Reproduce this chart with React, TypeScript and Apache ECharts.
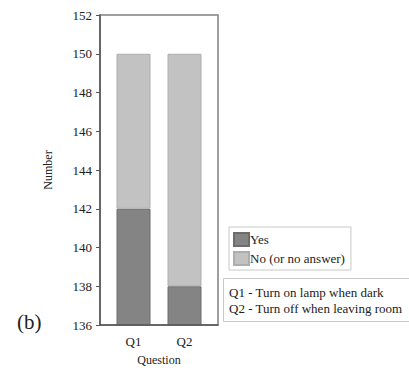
import React, { useEffect, useRef } from "react";
import * as echarts from "echarts";

const categories = ["Q1", "Q2"];
const yesValues = [142, 138];
const noValues = [8, 12];
const seriesNames = ["Yes", "No (or no answer)"];
const noteLines = ["Q1 - Turn on lamp when dark", "Q2 - Turn off when leaving room"];
const yMin = 136;
const yMax = 152;
const yStep = 2;

const FONT = "Times New Roman, Liberation Serif, serif";

export default function App() {
  const ref = useRef<HTMLDivElement>(null);
  useEffect(() => {
    if (!ref.current) return;
    const chart = echarts.init(ref.current, null, { renderer: "svg" });
    chart.setOption({
      animation: false,
      backgroundColor: "#ffffff",
      textStyle: { fontFamily: FONT },
      grid: [
        { left: 100, top: 15, width: 118, height: 310, show: true, borderColor: "#808080", borderWidth: 1.5, backgroundColor: "transparent", outerBoundsMode: "none", containLabel: false },
        { left: 108, top: 15, width: 102, height: 310, show: false, outerBoundsMode: "none", containLabel: false },
      ],
      xAxis: [
        {
          gridIndex: 0,
          type: "category",
          data: categories,
          name: "Question",
          nameLocation: "middle",
          nameGap: 29,
          nameTextStyle: { fontFamily: FONT, fontSize: 12, color: "#222" },
          axisLine: { show: true, lineStyle: { color: "#555", width: 1.5 } },
          axisTick: { show: false },
          axisLabel: { show: false },
          z: 5,
        },
        {
          gridIndex: 1,
          type: "category",
          data: categories,
          axisLine: { show: false },
          axisTick: { show: false },
          axisLabel: { fontFamily: FONT, fontSize: 13, color: "#222", margin: 10 },
        },
      ],
      yAxis: [
        {
          gridIndex: 0,
          type: "value",
          min: yMin,
          max: yMax,
          interval: yStep,
          name: "Number",
          nameLocation: "middle",
          nameGap: 46,
          nameTextStyle: { fontFamily: FONT, fontSize: 12, color: "#222" },
          axisLine: { show: true, lineStyle: { color: "#555", width: 1.5 } },
          axisTick: { show: true, length: 4, lineStyle: { color: "#555" } },
          axisLabel: { fontFamily: FONT, fontSize: 13, color: "#222", margin: 8 },
          splitLine: { show: false },
        },
        {
          gridIndex: 1,
          type: "value",
          min: yMin,
          max: yMax,
          interval: yStep,
          show: false,
          splitLine: { show: false },
        },
      ],
      legend: {
        orient: "vertical",
        left: 229,
        top: 227,
        data: seriesNames,
        itemWidth: 15,
        itemHeight: 13,
        itemGap: 4,
        padding: [5, 6, 4, 4],
        borderColor: "#c8c8c8",
        borderWidth: 1,
        icon: "rect",
        textStyle: { fontFamily: FONT, fontSize: 13, color: "#222", padding: [0, 0, 0, -4] },
      },
      title: {
        text: noteLines.join("\n"),
        left: 223,
        top: 278,
        padding: [6, 8, 6, 6],
        borderColor: "#c8c8c8",
        borderWidth: 1,
        textStyle: { fontFamily: FONT, fontSize: 13, fontWeight: "normal", color: "#222", lineHeight: 16 },
      },
      graphic: [
        {
          type: "text",
          left: 17,
          top: 311,
          style: { text: "(b)", fontFamily: FONT, fontSize: 21, fill: "#222" },
        },
      ],
      series: [
        {
          name: seriesNames[0],
          type: "bar",
          xAxisIndex: 1,
          yAxisIndex: 1,
          stack: "total",
          barWidth: 34,
          data: yesValues,
          itemStyle: { color: "#848484", borderColor: "#6c6c6c", borderWidth: 1 },
        },
        {
          name: seriesNames[1],
          type: "bar",
          xAxisIndex: 1,
          yAxisIndex: 1,
          stack: "total",
          barWidth: 34,
          data: noValues,
          itemStyle: { color: "#c2c2c2", borderColor: "#adadad", borderWidth: 1 },
        },
      ],
    });
    return () => chart.dispose();
  }, []);
  return <div ref={ref} style={{ position: "fixed", left: 0, top: 0, width: 409, height: 368 }} />;
}
